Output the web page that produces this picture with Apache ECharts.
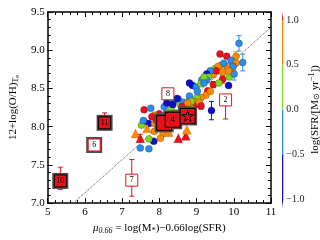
<!DOCTYPE html>
<html><head><meta charset="utf-8">
<script src="https://cdn.jsdelivr.net/npm/echarts@6/dist/echarts.min.js"></script>
<style>html,body{margin:0;padding:0;background:#fff}#c{width:320px;height:240px}</style>
</head><body><div id="c"></div>
<script>
// ---- data (axis units) ----
const xRange = [5, 11];
const yRange = [7.0, 9.5];
const cbTicks = [-1.0, -0.5, 0.0, 0.5, 1.0];
// circles: mu, 12+log(O/H), log SFR, error
const circX = [10.14,10.24,9.63,9.81,10.06,9.93,10.06,9.65,9.83,9.96,9.50,9.58,9.73,9.70,9.88,10.01,9.86,9.45,9.53,9.37,9.27,9.32,9.27,9.14,9.20,8.81,8.89,8.99,9.12,9.20,9.45,9.30,9.25,9.12,9.02,8.51,8.79,8.94,8.94,8.56,8.64,8.71,8.84,8.13,7.59,8.00,7.87,7.59,7.72,7.52,7.87,7.87,8.10,8.03,7.49,7.72,7.85,7.72,9.40,7.77,8.31,8.38,8.48,8.23,8.59,8.76,8.86,8.81,9.07,7.93,8.08,7.57,9.70,9.60,9.98,9.86,8.61,8.86,8.76,7.80,8.20,9.37,9.02,8.43,9.12,8.36];
const circY = [9.09,8.84,8.95,8.92,8.92,8.87,8.83,8.80,8.79,8.75,8.76,8.79,8.83,8.62,8.65,8.69,8.54,8.68,8.73,8.73,8.69,8.65,8.61,8.61,8.65,8.57,8.54,8.52,8.56,8.57,8.55,8.47,8.41,8.38,8.37,8.36,8.31,8.33,8.27,8.29,8.32,8.27,8.35,8.26,8.22,8.17,8.15,8.07,8.04,8.02,8.04,7.94,7.91,7.85,7.72,7.71,7.81,7.84,8.21,8.24,8.23,8.33,8.37,8.15,8.21,8.22,8.24,8.40,8.32,8.08,8.14,8.08,8.71,8.57,8.79,8.73,8.26,8.33,8.31,8.13,8.31,8.46,8.46,8.18,8.27,8.29];
const circSFR = [-0.25,-0.25,1.1,1.1,0.75,-0.25,0.75,0.75,0.75,0.75,0.25,0.75,-0.25,1.1,0.25,-0.25,-0.75,0.75,1.1,-0.25,-0.75,0.25,-0.25,-0.25,0.25,-0.75,-0.75,-0.25,0.25,-0.25,1.1,1.1,0.75,0.75,0.25,-0.25,-0.75,0.75,1.1,0.25,-0.25,0.75,0.25,-0.25,1.1,1.1,0.75,1.1,-0.75,0.25,0.75,0.75,0.75,0.75,-0.25,-0.25,-0.75,0.25,-0.75,-0.25,0.25,-0.25,-0.75,1.1,1.1,1.1,0.75,-0.25,0.75,1.1,-0.25,-0.25,0.75,0.25,-0.25,0.75,1.1,0.25,0.75,1.1,-0.75,0.75,-0.25,0.75,1.1,-0.75];
const circErr = [0.10,0.11,0,0,0.06,0,0,0,0,0,0,0,0,0.05,0,0.08,0,0,0,0,0,0,0,0,0,0,0,0,0,0,0.04,0,0,0,0,0,0.05,0,0.04,0,0,0,0,0,0,0,0,0,0,0,0,0,0,0,0,0,0,0,0.12,0,0,0,0,0,0,0.05,0,0,0,0,0,0,0,0,0,0,0,0,0,0,0,0,0,0,0.04,0.04];
// triangles
const triX = [7.36,7.49,7.67,8.25,8.51,8.71,8.74];
const triY = [7.91,7.85,7.98,7.93,7.85,7.88,7.96];
const triSFR = [0.75,1.1,0.75,0.75,1.1,1.1,0.75];
const triErr = [0,0.05,0,0.05,0,0.05,0];
// labelled objects
const filledBoxX = [5.34, 6.53];
const filledBoxY = [7.29, 8.05];
const filledBoxLab = ['10', '11'];
const bigBoxX = [8.13, 8.36, 8.76];
const bigBoxY = [8.05, 8.09, 8.14];
const bigBoxLab = ['', '4', ''];
const starX = [8.76];
const starY = [8.14];
const shadowOpenX = [6.25];
const shadowOpenY = [7.76];
const shadowOpenLab = ['6'];
const openBoxX = [7.26, 8.23, 9.78];
const openBoxY = [7.30, 8.43, 8.35];
const openBoxLab = ['7', '8', '2'];
const boxErrX = [5.34, 6.53, 7.26, 9.78];
const boxErrLo = [7.18, 7.96, 7.09, 8.10];
const boxErrHi = [7.47, 8.18, 7.57, 8.40];
const textX = [7.85, 9.14];
const textY = [8.09, 8.09];
const textLab = ['1', '5'];
const fitX = [5.69, 11];
const fitY = [7.0, 9.3];

// ---- styling ----
const FONT = 'Liberation Serif, Times New Roman, serif';
const C_RED = '#e8101a', C_OR = '#ff8a00', C_GR = '#7fd61c', C_LB = '#2b8cea', C_DB = '#0c10c8', C_NAVY = '#00006e';
function colorFor(s) {
  if (s > 1) return C_RED;
  if (s > 0.5) return C_OR;
  if (s > 0) return C_GR;
  if (s > -0.5) return C_LB;
  if (s > -1) return C_DB;
  return C_NAVY;
}
const cbSegLo = [-1.1, -1.0, -0.5, 0.0, 0.5, 1.0];
const cbSegHi = [-1.0, -0.5, 0.0, 0.5, 1.0, 1.09];
const cbSegCol = [C_NAVY, C_DB, C_LB, C_GR, C_OR, '#cc0000'];

const errData = [];
circX.forEach((x, i) => { if (circErr[i] > 0) errData.push([x, circY[i] - circErr[i], circY[i] + circErr[i], circSFR[i]]); });
triX.forEach((x, i) => { if (triErr[i] > 0) errData.push([x, triY[i] - triErr[i], triY[i] + triErr[i], triSFR[i]]); });
boxErrX.forEach((x, i) => errData.push([x, boxErrLo[i], boxErrHi[i], 1.1]));

function errRender(params, api) {
  const x = api.value(0), lo = api.value(1), hi = api.value(2), s = api.value(3);
  const p1 = api.coord([x, lo]), p2 = api.coord([x, hi]);
  const c = colorFor(s), w = 2.5;
  const st = { stroke: c, lineWidth: 1 };
  return { type: 'group', children: [
    { type: 'line', shape: { x1: p1[0], y1: p1[1], x2: p2[0], y2: p2[1] }, style: st },
    { type: 'line', shape: { x1: p1[0] - w, y1: p1[1], x2: p1[0] + w, y2: p1[1] }, style: st },
    { type: 'line', shape: { x1: p2[0] - w, y1: p2[1], x2: p2[0] + w, y2: p2[1] }, style: st }
  ]};
}
function cbRender(params, api) {
  const i = params.dataIndex;
  const lo = api.value(0), hi = api.value(1);
  const a = api.coord([0, lo]), b = api.coord([1, hi]);
  const col = cbSegCol[i];
  if (i === 0) {
    return { type: 'polygon', shape: { points: [[a[0], b[1]], [b[0], b[1]], [(a[0] + b[0]) / 2, a[1]]] }, style: { fill: col } };
  }
  if (i === cbSegCol.length - 1) {
    return { type: 'polygon', shape: { points: [[a[0], a[1]], [b[0], a[1]], [(a[0] + b[0]) / 2, b[1]]] }, style: { fill: col } };
  }
  return { type: 'rect', shape: { x: a[0], y: b[1], width: b[0] - a[0], height: a[1] - b[1] }, style: { fill: col } };
}

const axisCommon = {
  type: 'value', splitLine: { show: false },
  axisLine: { show: true, onZero: false, lineStyle: { color: '#000', width: 1.5 } },
  axisTick: { show: true, inside: true, length: 5, lineStyle: { color: '#000', width: 1 } },
  minorTick: { show: true, splitNumber: 5, length: 3, lineStyle: { color: '#000', width: 1 } },
};
const lab = { fontFamily: FONT, fontSize: 11, color: '#000' };

const chart = echarts.init(document.getElementById('c'), null, { renderer: 'canvas' });
chart.setOption({
  animation: false,
  grid: [
    { left: 35, top: 12, width: 236, height: 197 },
    { left: 282, top: 20, width: 5, height: 179 }
  ],
  xAxis: [
    Object.assign({}, axisCommon, { gridIndex: 0, position: 'bottom', min: xRange[0], max: xRange[1], interval: 1,
      axisLabel: Object.assign({ margin: 4 }, lab),
      name: '{i|μ}{sub|0.66}{n| = log(M}{sub2|*}{n|)−0.66log(SFR)}', nameLocation: 'middle', nameGap: 13,
      nameTextStyle: { fontFamily: FONT, fontSize: 11, color: '#000', rich: {
        i: { fontFamily: FONT, fontStyle: 'italic', fontSize: 11 },
        sub: { fontFamily: FONT, fontStyle: 'italic', fontSize: 8, verticalAlign: 'bottom', padding: [5, 0, 0, 0] },
        sub2: { fontFamily: FONT, fontSize: 8, verticalAlign: 'bottom', padding: [5, 0, 0, 0] },
        n: { fontFamily: FONT, fontSize: 11 } } } }),
    Object.assign({}, axisCommon, { gridIndex: 0, position: 'top', min: xRange[0], max: xRange[1], interval: 1, axisLabel: { show: false } }),
    { type: 'value', gridIndex: 1, min: 0, max: 1, show: false }
  ],
  yAxis: [
    Object.assign({}, axisCommon, { gridIndex: 0, position: 'left', min: yRange[0], max: yRange[1], interval: 0.5,
      axisLabel: Object.assign({ margin: 3, formatter: v => v.toFixed(1) }, lab),
      name: '{n|12+log(O/H)}{sub|T}{sub2|e}', nameLocation: 'middle', nameGap: 22, nameRotate: 90,
      nameTextStyle: { fontFamily: FONT, fontSize: 11, color: '#000', rich: {
        n: { fontFamily: FONT, fontSize: 11 },
        sub: { fontFamily: FONT, fontSize: 8, verticalAlign: 'bottom', padding: [5, 0, 0, 0] },
        sub2: { fontFamily: FONT, fontSize: 6, verticalAlign: 'bottom', padding: [7, 0, 0, 0] } } } }),
    Object.assign({}, axisCommon, { gridIndex: 0, position: 'right', min: yRange[0], max: yRange[1], interval: 0.5, axisLabel: { show: false } }),
    { type: 'value', gridIndex: 1, position: 'right', min: cbTicks[0], max: cbTicks[cbTicks.length - 1], interval: 0.5,
      splitLine: { show: false }, axisLine: { show: false }, axisTick: { show: false },
      axisLabel: { margin: 3, fontFamily: FONT, fontSize: 10, color: '#222', formatter: v => (v < 0 ? '−' : '') + Math.abs(v).toFixed(1) },
      name: '{n|log(SFR/[M}{sub|⊙}{n| yr}{sup|−1}{n|])}', nameLocation: 'middle', nameGap: 21, nameRotate: 90,
      nameTextStyle: { fontFamily: FONT, fontSize: 11, color: '#000', rich: {
        n: { fontFamily: FONT, fontSize: 11 },
        sub: { fontFamily: FONT, fontSize: 8, verticalAlign: 'bottom', padding: [4, 0, 0, 0] },
        sup: { fontFamily: FONT, fontSize: 8, verticalAlign: 'top', padding: [0, 0, 5, 0] } } } }
  ],
  series: [
    { type: 'line', xAxisIndex: 0, yAxisIndex: 0, data: fitX.map((x, i) => [x, fitY[i]]), symbol: 'none', silent: true,
      lineStyle: { type: 'dotted', color: '#555', width: 1 }, z: 1 },
    { type: 'custom', xAxisIndex: 0, yAxisIndex: 0, renderItem: errRender, data: errData, encode: { x: 0, y: [1, 2] }, z: 2 },
    { type: 'scatter', xAxisIndex: 0, yAxisIndex: 0, symbol: 'circle', symbolSize: 7, z: 3,
      data: circX.map((x, i) => [x, circY[i], circSFR[i]]),
      itemStyle: { color: p => colorFor(p.value[2]), borderColor: 'rgba(0,0,0,0.35)', borderWidth: 0.6, opacity: 1 } },
    { type: 'scatter', xAxisIndex: 0, yAxisIndex: 0, symbol: 'triangle', symbolSize: 9, z: 4,
      data: triX.map((x, i) => [x, triY[i], triSFR[i]]),
      itemStyle: { color: p => colorFor(p.value[2]), borderColor: 'rgba(0,0,0,0.3)', borderWidth: 0.5, opacity: 1 } },
    // shadows
    { type: 'scatter', xAxisIndex: 0, yAxisIndex: 0, symbol: 'rect', symbolSize: 16, z: 5,
      data: filledBoxX.map((x, i) => [x, filledBoxY[i]]).concat(shadowOpenX.map((x, i) => [x, shadowOpenY[i]])),
      itemStyle: { color: '#4d4d4d', opacity: 1 } },
    { type: 'scatter', xAxisIndex: 0, yAxisIndex: 0, symbol: 'rect', symbolSize: 19, z: 5,
      data: bigBoxX.map((x, i) => [x, bigBoxY[i]]), itemStyle: { color: '#4d4d4d', opacity: 1 } },
    { type: 'scatter', xAxisIndex: 0, yAxisIndex: 0, symbol: 'rect', symbolSize: 15, z: 6,
      data: bigBoxX.map((x, i) => ({ value: [x, bigBoxY[i]], name: bigBoxLab[i] })),
      itemStyle: { color: C_RED, borderColor: '#000', borderWidth: 1, opacity: 1 },
      label: { show: true, position: 'inside', formatter: p => p.name, fontFamily: FONT, fontSize: 9, color: '#000' } },
    { type: 'scatter', xAxisIndex: 0, yAxisIndex: 0, symbol: 'path://M50,0 L61,35 L98,35 L68,57 L79,91 L50,70 L21,91 L32,57 L2,35 L39,35 Z', symbolSize: 11, z: 7,
      data: starX.map((x, i) => [x, starY[i]]), itemStyle: { color: C_RED, borderColor: '#000', borderWidth: 1, opacity: 1 } },
    { type: 'scatter', xAxisIndex: 0, yAxisIndex: 0, symbol: 'rect', symbolSize: 12, z: 6,
      data: filledBoxX.map((x, i) => ({ value: [x, filledBoxY[i]], name: filledBoxLab[i] })),
      itemStyle: { color: C_RED, borderColor: '#000', borderWidth: 1, opacity: 1 },
      label: { show: true, position: 'inside', formatter: p => p.name, fontFamily: FONT, fontSize: 8, color: '#000' } },
    { type: 'scatter', xAxisIndex: 0, yAxisIndex: 0, symbol: 'rect', symbolSize: 12, z: 6,
      data: shadowOpenX.map((x, i) => ({ value: [x, shadowOpenY[i]], name: shadowOpenLab[i] })).concat(
            openBoxX.map((x, i) => ({ value: [x, openBoxY[i]], name: openBoxLab[i] }))),
      itemStyle: { color: '#fff', borderColor: C_RED, borderWidth: 1, opacity: 1 },
      label: { show: true, position: 'inside', formatter: p => p.name, fontFamily: FONT, fontSize: 8, color: '#000' } },
    { type: 'scatter', xAxisIndex: 0, yAxisIndex: 0, symbolSize: 1, z: 8,
      data: textX.map((x, i) => ({ value: [x, textY[i]], name: textLab[i] })),
      itemStyle: { opacity: 0 },
      label: { show: true, position: 'inside', formatter: p => p.name, fontFamily: FONT, fontSize: 9, color: '#222' } },
    { type: 'custom', xAxisIndex: 2, yAxisIndex: 2, renderItem: cbRender, clip: false,
      data: cbSegLo.map((lo, i) => [lo, cbSegHi[i]]), encode: { y: [0, 1] } }
  ]
});
</script></body></html>
